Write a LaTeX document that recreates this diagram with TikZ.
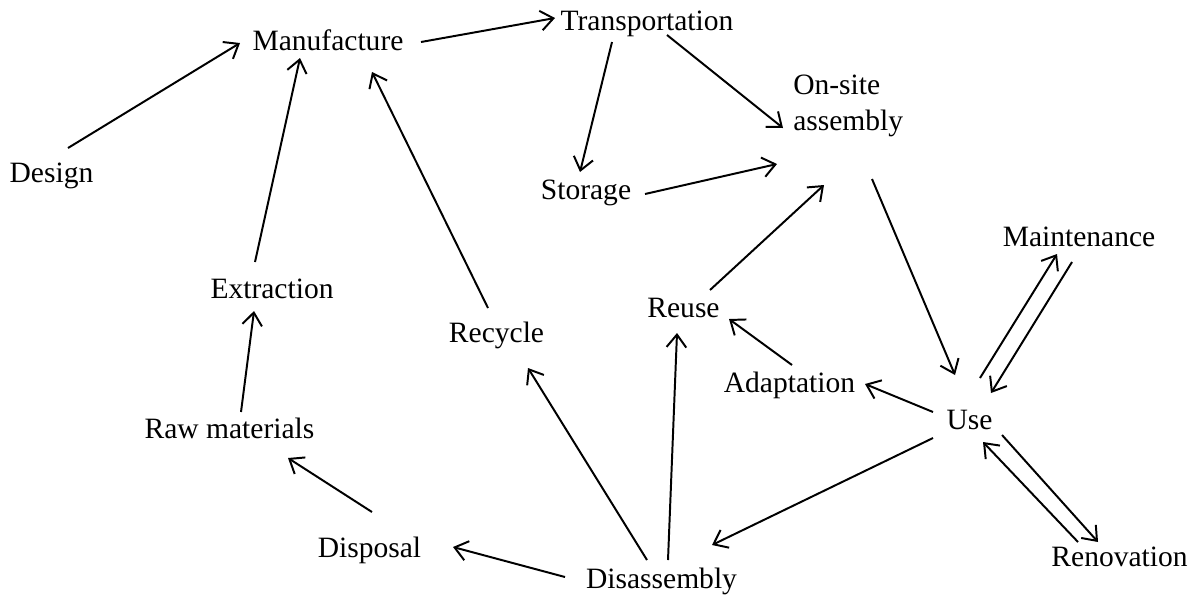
\documentclass[tikz,border=0pt]{standalone}
\usepackage{fontspec}
\setmainfont{Liberation Serif}
\usetikzlibrary{arrows.meta}
\usetikzlibrary{calc}

\begin{document}
\begin{tikzpicture}[x=0.025cm,y=-0.025cm]
\tikzstyle{stage}=[inner sep=0pt, anchor=base, font=\fontsize{21}{25.5}\selectfont]
\tikzstyle{flow}=[-{Straight Barb[length=9pt,width=14pt]}, line width=1.4pt]
\useasboundingbox (0,0) rectangle (1200,595);
% stages
\node [stage] (manuf) at (328,50) {Manufacture};
\node [stage] (trans) at (647,30) {Transportation};
\node [stage] (design) at (51.5,182) {Design};
\node [stage, anchor=base west, align=left] (onsite) at (793,130) {On-site\\assembly};
\node [stage] (storage) at (586,199) {Storage};
\node [stage] (maint) at (1079,246) {Maintenance};
\node [stage] (extract) at (272,298) {Extraction};
\node [stage] (recycle) at (496.5,342) {Recycle};
\node [stage] (reuse) at (683.5,317) {Reuse};
\node [stage] (adapt) at (789.5,392) {Adaptation};
\node [stage] (use) at (969.5,429) {Use};
\node [stage] (raw) at (229.5,438) {Raw materials};
\node [stage] (disposal) at (369.5,557) {Disposal};
\node [stage] (disas) at (661.5,588) {Disassembly};
\node [stage] (renov) at (1119.5,566) {Renovation};
% flows between the stages
\draw [flow] ($(design.base)+(16.5,-34)$) -- ($(manuf.base)+(-88,-7)$);
\draw [flow] ($(manuf.base)+(93,-8)$) -- ($(trans.base)+(-92,-12)$);
\draw [flow] ($(trans.base)+(-35,12)$) -- ($(storage.base)+(-6,-27)$);
\draw [flow] ($(trans.base)+(20,5)$) -- ($(onsite.base west)+(-10,-2)$);
\draw [flow] ($(storage.base)+(59,-5)$) -- ($(onsite.base west)+(-16,34)$);
\draw [flow] ($(extract.base)+(-17,-36)$) -- ($(manuf.base)+(-28,8)$);
\draw [flow] ($(recycle.base)+(-8.5,-34)$) -- ($(manuf.base)+(44,22)$);
\draw [flow] ($(raw.base)+(11.5,-26)$) -- ($(extract.base)+(-18,13)$);
\draw [flow] ($(disposal.base)+(2.5,-45)$) -- ($(raw.base)+(58.5,20)$);
\draw [flow] ($(disas.base)+(-96.5,-11)$) -- ($(disposal.base)+(83.5,-10)$);
\draw [flow] ($(disas.base)+(-14.5,-28)$) -- ($(recycle.base)+(31.5,26)$);
\draw [flow] ($(disas.base)+(6.5,-28)$) -- ($(reuse.base)+(-6.5,16)$);
\draw [flow] ($(use.base)+(-36.5,9)$) -- ($(disas.base)+(50.5,-43)$);
\draw [flow] ($(use.base)+(-36.5,-17)$) -- ($(adapt.base)+(75.5,-8)$);
\draw [flow] ($(adapt.base)+(2.5,-27)$) -- ($(reuse.base)+(45.5,2)$);
\draw [flow] ($(reuse.base)+(26.5,-27)$) -- ($(onsite.base west)+(31,55)$);
\draw [flow] ($(onsite.base west)+(79,49)$) -- ($(use.base)+(-14.5,-54)$);
\draw [flow] ($(use.base)+(10.5,-51)$) -- ($(maint.base)+(-22,8)$);
\draw [flow] ($(maint.base)+(-7,16)$) -- ($(use.base)+(21.5,-36)$);
\draw [flow] ($(use.base)+(32.5,6)$) -- ($(renov.base)+(-21.5,-24)$);
\draw [flow] ($(renov.base)+(-41.5,-24)$) -- ($(use.base)+(13.5,13)$);
\end{tikzpicture}
\end{document}
